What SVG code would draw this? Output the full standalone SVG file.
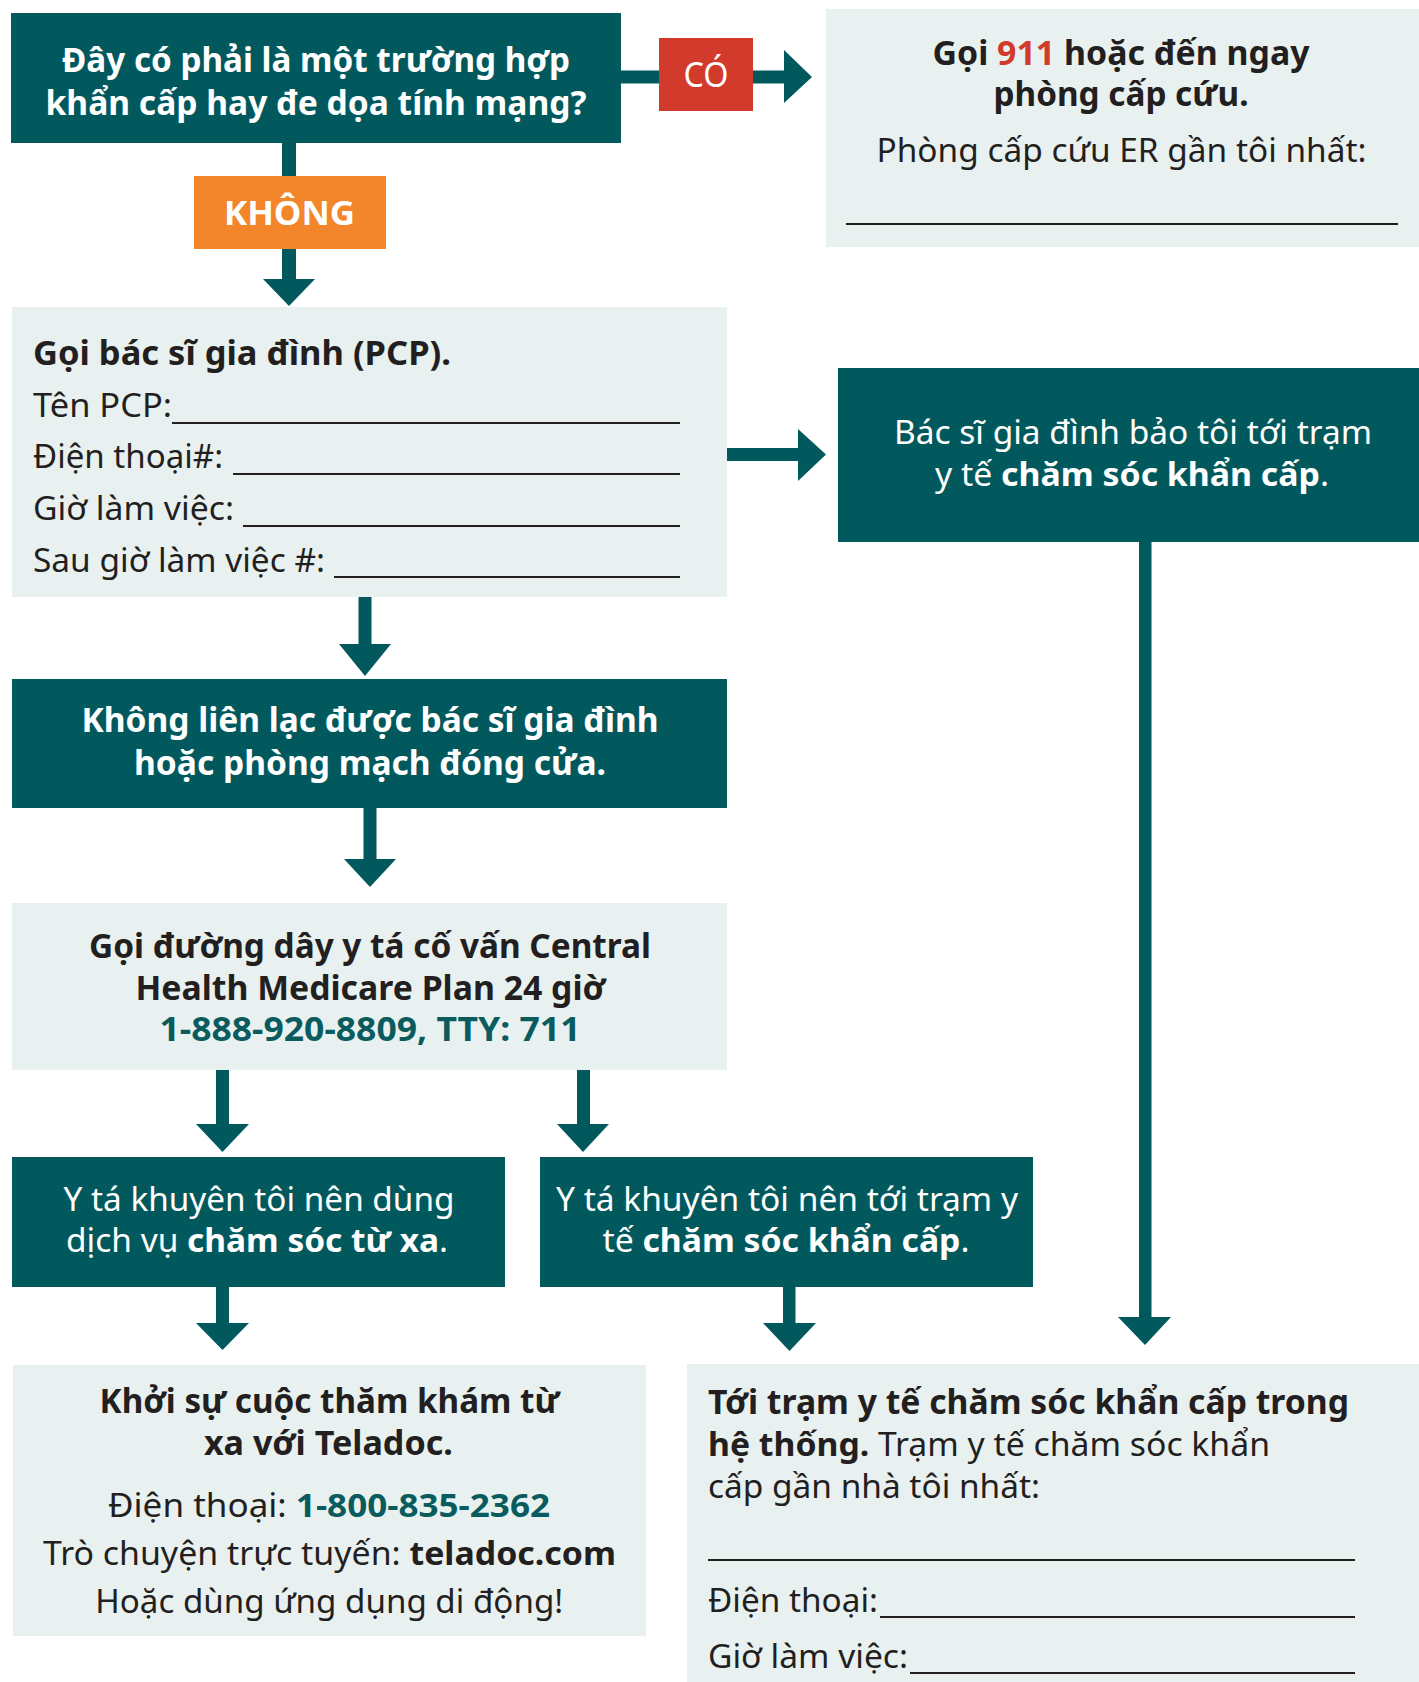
<svg xmlns="http://www.w3.org/2000/svg" width="1419" height="1682" viewBox="0 0 1419 1682">
<style>
  .dark{fill:#02595d}
  .light{fill:#e8f1f0}
  text{font-family:"Noto Sans","Open Sans","DejaVu Sans",sans-serif}
  .w{fill:#ffffff}
  .k{fill:#231f20}
  .b{font-weight:700}
  .r{font-weight:400}
  .s34{font-size:34px}
  .s33{font-size:33px}
  .mid{text-anchor:middle}
  .ul{stroke:#231f20;stroke-width:2}
  .teal{fill:#0a5b5e}
  .red{fill:#d23a2b}
  .conn{fill:#02595d}
</style>

<g id="connectors" class="conn">
  <rect x="621" y="70.5" width="38" height="13"/>
  <rect x="753" y="70.5" width="31" height="13"/>
  <polygon points="784,50 812,77 784,103"/>
  <rect x="282" y="143" width="14" height="33"/>
  <rect x="282" y="249" width="14" height="30"/>
  <polygon points="263,279 315,279 289,306"/>
  <rect x="727" y="448" width="71" height="13"/>
  <polygon points="798,429 826,454.5 798,481"/>
  <rect x="358.5" y="597" width="13" height="47"/>
  <polygon points="339,644 391,644 365,676"/>
  <rect x="363.5" y="808" width="13" height="51"/>
  <polygon points="344,859 396,859 370,887"/>
  <rect x="216" y="1070" width="13" height="54"/>
  <polygon points="196,1124 249,1124 222.5,1152"/>
  <rect x="577" y="1070" width="13" height="54"/>
  <polygon points="557,1124 609,1124 583,1152"/>
  <rect x="216" y="1286" width="13" height="37"/>
  <polygon points="196,1323 249,1323 222.5,1350"/>
  <rect x="783" y="1286" width="12.5" height="37"/>
  <polygon points="763,1323 816,1323 789.5,1351"/>
  <rect x="1139" y="541" width="12.5" height="776"/>
  <polygon points="1118,1317 1171,1317 1145,1345"/>
</g>

<g id="question">
  <rect class="dark" x="11" y="13" width="610" height="130"/>
  <text class="w b s34 mid" x="316" y="72" textLength="508" lengthAdjust="spacingAndGlyphs">Đây có phải là một trường hợp</text>
  <text class="w b s34 mid" x="316" y="115" textLength="541" lengthAdjust="spacingAndGlyphs">khẩn cấp hay đe dọa tính mạng?</text>
</g>

<g id="label-yes">
  <rect x="659" y="38" width="94" height="73" fill="#d23a2b"/>
  <text class="w r s34 mid" x="706" y="87" textLength="45" lengthAdjust="spacingAndGlyphs">CÓ</text>
</g>

<g id="label-no">
  <rect x="194" y="176" width="192" height="73" fill="#f3852a"/>
  <text class="w b s34 mid" x="289.5" y="225" textLength="131" lengthAdjust="spacingAndGlyphs">KHÔNG</text>
</g>

<g id="er">
  <rect class="light" x="826" y="9" width="593" height="238"/>
  <text class="k b s34 mid" x="1121" y="65" textLength="377" lengthAdjust="spacingAndGlyphs">Gọi <tspan class="red">911</tspan> hoặc đến ngay</text>
  <text class="k b s34 mid" x="1121" y="106" textLength="255" lengthAdjust="spacingAndGlyphs">phòng cấp cứu.</text>
  <text class="k r s33 mid" x="1121.5" y="162" textLength="490" lengthAdjust="spacingAndGlyphs">Phòng cấp cứu ER gần tôi nhất:</text>
  <line class="ul" x1="846" y1="224" x2="1398" y2="224"/>
</g>

<g id="pcp">
  <rect class="light" x="12" y="307" width="715" height="290"/>
  <text class="k b s34" x="33" y="365" textLength="418" lengthAdjust="spacingAndGlyphs">Gọi bác sĩ gia đình (PCP).</text>
  <text class="k r s33" x="33" y="417" textLength="139" lengthAdjust="spacingAndGlyphs">Tên PCP:</text>
  <line class="ul" x1="172" y1="423" x2="680" y2="423"/>
  <text class="k r s33" x="33" y="468" textLength="190" lengthAdjust="spacingAndGlyphs">Điện thoại#:</text>
  <line class="ul" x1="233" y1="474" x2="680" y2="474"/>
  <text class="k r s33" x="33" y="520" textLength="201" lengthAdjust="spacingAndGlyphs">Giờ làm việc:</text>
  <line class="ul" x1="243" y1="526" x2="680" y2="526"/>
  <text class="k r s33" x="33" y="572" textLength="292" lengthAdjust="spacingAndGlyphs">Sau giờ làm việc #:</text>
  <line class="ul" x1="334" y1="577" x2="680" y2="577"/>
</g>

<g id="pcp-urgent">
  <rect class="dark" x="838" y="368" width="581" height="174"/>
  <text class="w r s33 mid" x="1133" y="444" textLength="478" lengthAdjust="spacingAndGlyphs">Bác sĩ gia đình bảo tôi tới trạm</text>
  <text class="w r s33 mid" x="1132" y="486" textLength="394" lengthAdjust="spacingAndGlyphs">y tế <tspan class="b">chăm sóc khẩn cấp</tspan>.</text>
</g>

<g id="no-contact">
  <rect class="dark" x="12" y="679" width="715" height="129"/>
  <text class="w b s34 mid" x="370" y="732" textLength="577" lengthAdjust="spacingAndGlyphs">Không liên lạc được bác sĩ gia đình</text>
  <text class="w b s34 mid" x="370" y="775" textLength="472" lengthAdjust="spacingAndGlyphs">hoặc phòng mạch đóng cửa.</text>
</g>

<g id="nurse-line">
  <rect class="light" x="12" y="903" width="715" height="167"/>
  <text class="k b s34 mid" x="370" y="958" textLength="562" lengthAdjust="spacingAndGlyphs">Gọi đường dây y tá cố vấn Central</text>
  <text class="k b s34 mid" x="370.5" y="1000" textLength="470" lengthAdjust="spacingAndGlyphs">Health Medicare Plan 24 giờ</text>
  <text class="teal b s34 mid" x="370" y="1041" textLength="421" lengthAdjust="spacingAndGlyphs">1-888-920-8809, TTY: 711</text>
</g>

<g id="nurse-telehealth">
  <rect class="dark" x="12" y="1157" width="493" height="130"/>
  <text class="w r s33 mid" x="259" y="1211" textLength="391" lengthAdjust="spacingAndGlyphs">Y tá khuyên tôi nên dùng</text>
  <text class="w r s33 mid" x="257" y="1252" textLength="382" lengthAdjust="spacingAndGlyphs">dịch vụ <tspan class="b">chăm sóc từ xa</tspan>.</text>
</g>

<g id="nurse-urgent">
  <rect class="dark" x="540" y="1157" width="493" height="130"/>
  <text class="w r s33 mid" x="787" y="1211" textLength="462" lengthAdjust="spacingAndGlyphs">Y tá khuyên tôi nên tới trạm y</text>
  <text class="w r s33 mid" x="786" y="1252" textLength="367" lengthAdjust="spacingAndGlyphs">tế <tspan class="b">chăm sóc khẩn cấp</tspan>.</text>
</g>

<g id="teladoc">
  <rect class="light" x="13" y="1365" width="633" height="271"/>
  <text class="k b s34 mid" x="329.6" y="1413" textLength="460" lengthAdjust="spacingAndGlyphs">Khởi sự cuộc thăm khám từ</text>
  <text class="k b s34 mid" x="328.4" y="1455" textLength="249" lengthAdjust="spacingAndGlyphs">xa với Teladoc.</text>
  <text class="k r s33 mid" x="329" y="1517" textLength="442" lengthAdjust="spacingAndGlyphs">Điện thoại: <tspan class="teal b">1-800-835-2362</tspan></text>
  <text class="k r s33 mid" x="329.5" y="1565" textLength="573" lengthAdjust="spacingAndGlyphs">Trò chuyện trực tuyến: <tspan class="b">teladoc.com</tspan></text>
  <text class="k r s33 mid" x="329.2" y="1613" textLength="468" lengthAdjust="spacingAndGlyphs">Hoặc dùng ứng dụng di động!</text>
</g>

<g id="urgent-care">
  <rect class="light" x="687" y="1364" width="732" height="318"/>
  <text class="k b s34" x="708" y="1414" textLength="641" lengthAdjust="spacingAndGlyphs">Tới trạm y tế chăm sóc khẩn cấp trong</text>
  <text class="k r s33" x="708" y="1456" textLength="562" lengthAdjust="spacingAndGlyphs"><tspan class="b">hệ thống.</tspan> Trạm y tế chăm sóc khẩn</text>
  <text class="k r s33" x="708" y="1498" textLength="332" lengthAdjust="spacingAndGlyphs">cấp gần nhà tôi nhất:</text>
  <line class="ul" x1="708" y1="1560" x2="1355" y2="1560"/>
  <text class="k r s33" x="708" y="1612" textLength="170" lengthAdjust="spacingAndGlyphs">Điện thoại:</text>
  <line class="ul" x1="880" y1="1617" x2="1355" y2="1617"/>
  <text class="k r s33" x="708" y="1668" textLength="200" lengthAdjust="spacingAndGlyphs">Giờ làm việc:</text>
  <line class="ul" x1="910" y1="1673" x2="1355" y2="1673"/>
</g>
</svg>
